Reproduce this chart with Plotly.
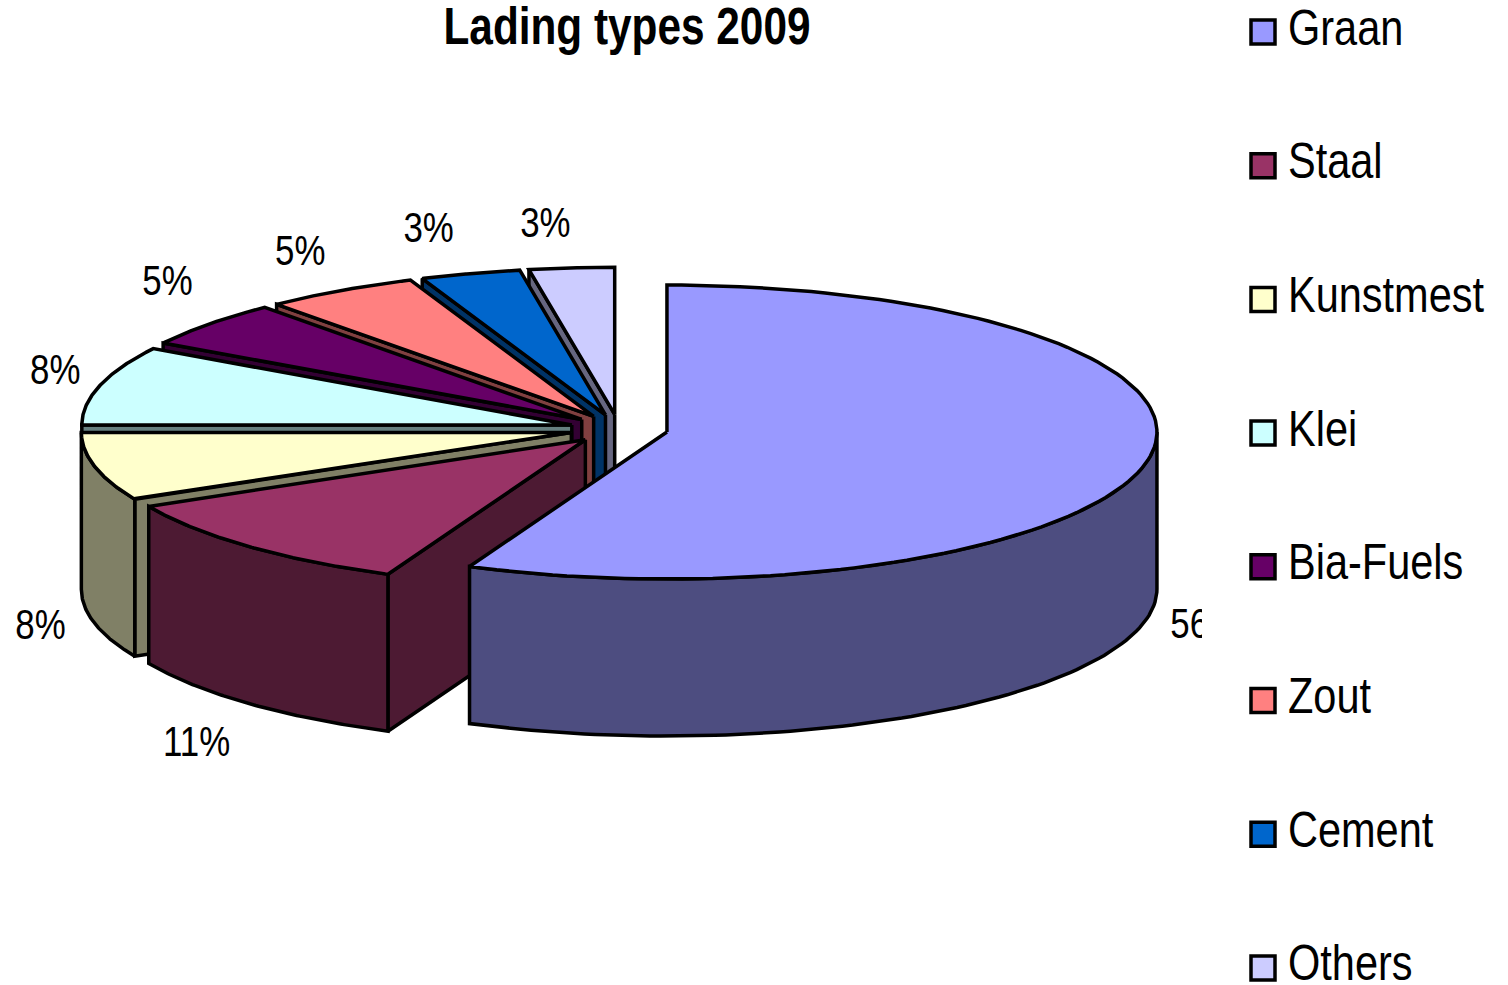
import numpy as np
import plotly.graph_objects as go

# --- data ---
categories = ["Graan", "Staal", "Kunstmest", "Klei", "Bia-Fuels", "Zout", "Cement", "Others"]
values = [56.6, 10.9, 7.5, 8.7, 5.1, 5.1, 3.3, 2.8]
value_labels = ["56%", "11%", "8%", "8%", "5%", "5%", "3%", "3%"]
top_colors = ["#9999FF", "#993366", "#FFFFCC", "#CCFFFF", "#660066", "#FF8080", "#0066CC", "#CCCCFF"]
side_colors = ["#4D4D80", "#4D1A33", "#808066", "#668080", "#330033", "#804040", "#003366", "#666680"]
title = "Lading types 2009"

# --- projection of the tilted, exploded pie (pixel-like plot units) ---
W, H = 1508, 985
PLOT_W = 1202
CX, CY = 619, 429
RX, RY = 490, 147
EXPLODE = 49
DEPTH = 157
TILT = RY / RX
FONT = "Liberation Sans, Arial, sans-serif"
LINE = dict(color="black", width=3.5)
LABEL_RADIUS = 550
LABEL_NUDGE_X = [0, -11, 4, 13, 4, -9, -25, -21]
LABEL_NUDGE_Y = [5, 29, 1, -1, -14, -2, -4, -2]
LEGEND_FIRST, LEGEND_STEP = 32, 133.7
LEGEND_MARK_X, LEGEND_TEXT_X = 1263, 1288

shares = np.array(values) / np.sum(values) * 360.0
starts = np.concatenate([[0.0], np.cumsum(shares)[:-1]])
ends = starts + shares
mids = (starts + ends) / 2


def apex(mid):
    t = np.radians(mid)
    return CX + EXPLODE * np.sin(t), CY - EXPLODE * TILT * np.cos(t)


def rim(ax, ay, degrees):
    t = np.radians(degrees)
    return ax + RX * np.sin(t), ay - RY * np.cos(t)


def polygon(fig, xs, ys, color, name):
    fig.add_trace(go.Scatter(
        x=list(xs) + [xs[0]], y=list(ys) + [ys[0]], mode="lines", fill="toself",
        fillcolor=color, line=LINE, name=name, hoverinfo="skip", showlegend=False,
        xaxis="x", yaxis="y"))


fig = go.Figure()

# back to front, so nearer slices overlap farther ones
for i in range(len(categories) - 1, -1, -1):
    ax, ay = apex(mids[i])
    a, b = starts[i], ends[i]
    side, top, name = side_colors[i], top_colors[i], categories[i]

    # radial cut faces that look toward the viewer
    for edge, visible in ((a, 180 < a % 360 < 360), (b, 0 < b % 360 < 180)):
        if visible:
            ex, ey = rim(ax, ay, edge)
            polygon(fig, [ax, ex, ex, ax], [ay, ey, ey + DEPTH, ay + DEPTH], side, name)

    # outer wall on the front half of the ellipse
    lo, hi = max(a, 90), min(b, 270)
    if hi > lo:
        th = np.linspace(lo, hi, 90)
        rx, ry = rim(ax, ay, th)
        polygon(fig, np.r_[rx, rx[::-1]], np.r_[ry, ry[::-1] + DEPTH], side, name)

    # top face
    th = np.linspace(a, b, 120)
    rx, ry = rim(ax, ay, th)
    polygon(fig, np.r_[ax, rx], np.r_[ay, ry], top, name)

# value labels sit outside each slice; front ones drop below the wall
lx, ly = [], []
for m, nx, ny in zip(mids, LABEL_NUDGE_X, LABEL_NUDGE_Y):
    ax, ay = apex(m)
    t = np.radians(m)
    lx.append(ax + LABEL_RADIUS * np.sin(t) + nx)
    y = ay - LABEL_RADIUS * TILT * np.cos(t)
    y += DEPTH if np.cos(t) < 0 else -22 * np.cos(t)
    ly.append(y + ny)
fig.add_trace(go.Scatter(
    x=lx, y=ly, mode="text", text=value_labels, textposition="middle center",
    textfont=dict(family=FONT, size=42, color="black"), cliponaxis=True,
    hoverinfo="skip", showlegend=False, xaxis="x", yaxis="y"))

# legend column
fig.add_trace(go.Scatter(
    x=[LEGEND_MARK_X] * len(categories), y=categories, mode="markers",
    marker=dict(symbol="square", size=24, color=top_colors, line=dict(color="black", width=3.5)),
    cliponaxis=False, hoverinfo="skip", showlegend=False, xaxis="x2", yaxis="y2"))
fig.add_trace(go.Scatter(
    x=[LEGEND_TEXT_X] * len(categories), y=categories, mode="text",
    text=categories, textposition="middle right",
    textfont=dict(family=FONT, size=50, color="black"),
    cliponaxis=False, hoverinfo="skip", showlegend=False, xaxis="x2", yaxis="y2"))

hidden = dict(visible=False, fixedrange=True, showgrid=False, zeroline=False)
fig.update_layout(
    width=W, height=H, autosize=False,
    margin=dict(l=0, r=0, t=0, b=0),
    paper_bgcolor="white", plot_bgcolor="rgba(0,0,0,0)",
    showlegend=False,
    title=dict(text=title, x=627 / W, xanchor="center", xref="paper",
               y=1 - 26 / H, yanchor="middle", yref="paper",
               font=dict(family=FONT, size=51, color="black", weight="bold")),
    xaxis=dict(domain=[0, PLOT_W / W], range=[0, PLOT_W], **hidden),
    yaxis=dict(domain=[0, 1], range=[H, 0], **hidden),
    xaxis2=dict(domain=[PLOT_W / W, 1], range=[PLOT_W, W], anchor="y2", **hidden),
    yaxis2=dict(domain=[0, 1], type="category", categoryorder="array", categoryarray=categories,
                range=[(H - LEGEND_FIRST) / LEGEND_STEP, -LEGEND_FIRST / LEGEND_STEP],
                anchor="x2", **hidden),
)

# the reference uses a condensed Arial: no body margin, and text narrowed to its width
POST = """
document.body.style.margin = '0';
document.documentElement.style.overflow = 'hidden';
document.querySelectorAll('.main-svg text').forEach(function (t) {
  var n = t.getComputedTextLength();
  if (n > 0) {
    t.setAttribute('lengthAdjust', 'spacingAndGlyphs');
    t.setAttribute('textLength', n * 0.83);
  }
});
"""
fig.write_html("out.html", post_script=POST, config={"displayModeBar": False})
